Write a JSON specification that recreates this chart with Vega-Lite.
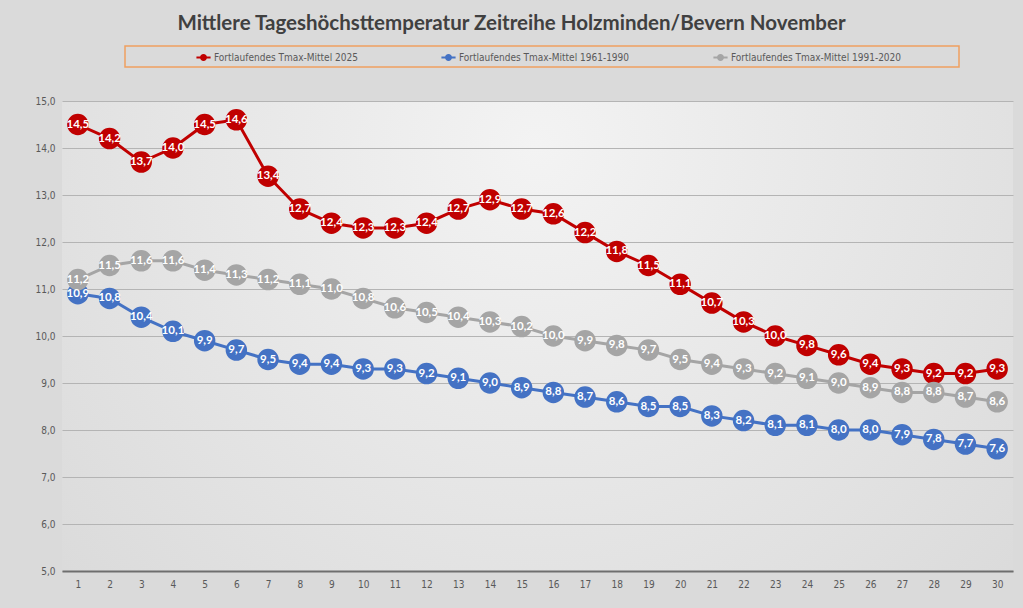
{
  "$schema": "https://vega.github.io/schema/vega-lite/v6.json",
  "autosize": "none",
  "width": 951,
  "height": 470,
  "padding": {"left": 62, "top": 101, "right": 10, "bottom": 37},
  "background": "#dadada",
  "title": {
    "text": "Mittlere Tageshöchsttemperatur Zeitreihe Holzminden/Bevern November",
    "font": "Lato, sans-serif",
    "fontSize": 20.5,
    "fontWeight": "bold",
    "color": "#404040",
    "anchor": "middle",
    "dx": -26,
    "offset": 11
  },
  "data": {
    "values": [
      {"day": 1, "series": "Fortlaufendes Tmax-Mittel 2025", "value": 14.5},
      {"day": 2, "series": "Fortlaufendes Tmax-Mittel 2025", "value": 14.2},
      {"day": 3, "series": "Fortlaufendes Tmax-Mittel 2025", "value": 13.7},
      {"day": 4, "series": "Fortlaufendes Tmax-Mittel 2025", "value": 14.0},
      {"day": 5, "series": "Fortlaufendes Tmax-Mittel 2025", "value": 14.5},
      {"day": 6, "series": "Fortlaufendes Tmax-Mittel 2025", "value": 14.6},
      {"day": 7, "series": "Fortlaufendes Tmax-Mittel 2025", "value": 13.4},
      {"day": 8, "series": "Fortlaufendes Tmax-Mittel 2025", "value": 12.7},
      {"day": 9, "series": "Fortlaufendes Tmax-Mittel 2025", "value": 12.4},
      {"day": 10, "series": "Fortlaufendes Tmax-Mittel 2025", "value": 12.3},
      {"day": 11, "series": "Fortlaufendes Tmax-Mittel 2025", "value": 12.3},
      {"day": 12, "series": "Fortlaufendes Tmax-Mittel 2025", "value": 12.4},
      {"day": 13, "series": "Fortlaufendes Tmax-Mittel 2025", "value": 12.7},
      {"day": 14, "series": "Fortlaufendes Tmax-Mittel 2025", "value": 12.9},
      {"day": 15, "series": "Fortlaufendes Tmax-Mittel 2025", "value": 12.7},
      {"day": 16, "series": "Fortlaufendes Tmax-Mittel 2025", "value": 12.6},
      {"day": 17, "series": "Fortlaufendes Tmax-Mittel 2025", "value": 12.2},
      {"day": 18, "series": "Fortlaufendes Tmax-Mittel 2025", "value": 11.8},
      {"day": 19, "series": "Fortlaufendes Tmax-Mittel 2025", "value": 11.5},
      {"day": 20, "series": "Fortlaufendes Tmax-Mittel 2025", "value": 11.1},
      {"day": 21, "series": "Fortlaufendes Tmax-Mittel 2025", "value": 10.7},
      {"day": 22, "series": "Fortlaufendes Tmax-Mittel 2025", "value": 10.3},
      {"day": 23, "series": "Fortlaufendes Tmax-Mittel 2025", "value": 10.0},
      {"day": 24, "series": "Fortlaufendes Tmax-Mittel 2025", "value": 9.8},
      {"day": 25, "series": "Fortlaufendes Tmax-Mittel 2025", "value": 9.6},
      {"day": 26, "series": "Fortlaufendes Tmax-Mittel 2025", "value": 9.4},
      {"day": 27, "series": "Fortlaufendes Tmax-Mittel 2025", "value": 9.3},
      {"day": 28, "series": "Fortlaufendes Tmax-Mittel 2025", "value": 9.2},
      {"day": 29, "series": "Fortlaufendes Tmax-Mittel 2025", "value": 9.2},
      {"day": 30, "series": "Fortlaufendes Tmax-Mittel 2025", "value": 9.3},
      {"day": 1, "series": "Fortlaufendes Tmax-Mittel 1961-1990", "value": 10.9},
      {"day": 2, "series": "Fortlaufendes Tmax-Mittel 1961-1990", "value": 10.8},
      {"day": 3, "series": "Fortlaufendes Tmax-Mittel 1961-1990", "value": 10.4},
      {"day": 4, "series": "Fortlaufendes Tmax-Mittel 1961-1990", "value": 10.1},
      {"day": 5, "series": "Fortlaufendes Tmax-Mittel 1961-1990", "value": 9.9},
      {"day": 6, "series": "Fortlaufendes Tmax-Mittel 1961-1990", "value": 9.7},
      {"day": 7, "series": "Fortlaufendes Tmax-Mittel 1961-1990", "value": 9.5},
      {"day": 8, "series": "Fortlaufendes Tmax-Mittel 1961-1990", "value": 9.4},
      {"day": 9, "series": "Fortlaufendes Tmax-Mittel 1961-1990", "value": 9.4},
      {"day": 10, "series": "Fortlaufendes Tmax-Mittel 1961-1990", "value": 9.3},
      {"day": 11, "series": "Fortlaufendes Tmax-Mittel 1961-1990", "value": 9.3},
      {"day": 12, "series": "Fortlaufendes Tmax-Mittel 1961-1990", "value": 9.2},
      {"day": 13, "series": "Fortlaufendes Tmax-Mittel 1961-1990", "value": 9.1},
      {"day": 14, "series": "Fortlaufendes Tmax-Mittel 1961-1990", "value": 9.0},
      {"day": 15, "series": "Fortlaufendes Tmax-Mittel 1961-1990", "value": 8.9},
      {"day": 16, "series": "Fortlaufendes Tmax-Mittel 1961-1990", "value": 8.8},
      {"day": 17, "series": "Fortlaufendes Tmax-Mittel 1961-1990", "value": 8.7},
      {"day": 18, "series": "Fortlaufendes Tmax-Mittel 1961-1990", "value": 8.6},
      {"day": 19, "series": "Fortlaufendes Tmax-Mittel 1961-1990", "value": 8.5},
      {"day": 20, "series": "Fortlaufendes Tmax-Mittel 1961-1990", "value": 8.5},
      {"day": 21, "series": "Fortlaufendes Tmax-Mittel 1961-1990", "value": 8.3},
      {"day": 22, "series": "Fortlaufendes Tmax-Mittel 1961-1990", "value": 8.2},
      {"day": 23, "series": "Fortlaufendes Tmax-Mittel 1961-1990", "value": 8.1},
      {"day": 24, "series": "Fortlaufendes Tmax-Mittel 1961-1990", "value": 8.1},
      {"day": 25, "series": "Fortlaufendes Tmax-Mittel 1961-1990", "value": 8.0},
      {"day": 26, "series": "Fortlaufendes Tmax-Mittel 1961-1990", "value": 8.0},
      {"day": 27, "series": "Fortlaufendes Tmax-Mittel 1961-1990", "value": 7.9},
      {"day": 28, "series": "Fortlaufendes Tmax-Mittel 1961-1990", "value": 7.8},
      {"day": 29, "series": "Fortlaufendes Tmax-Mittel 1961-1990", "value": 7.7},
      {"day": 30, "series": "Fortlaufendes Tmax-Mittel 1961-1990", "value": 7.6},
      {"day": 1, "series": "Fortlaufendes Tmax-Mittel 1991-2020", "value": 11.2},
      {"day": 2, "series": "Fortlaufendes Tmax-Mittel 1991-2020", "value": 11.5},
      {"day": 3, "series": "Fortlaufendes Tmax-Mittel 1991-2020", "value": 11.6},
      {"day": 4, "series": "Fortlaufendes Tmax-Mittel 1991-2020", "value": 11.6},
      {"day": 5, "series": "Fortlaufendes Tmax-Mittel 1991-2020", "value": 11.4},
      {"day": 6, "series": "Fortlaufendes Tmax-Mittel 1991-2020", "value": 11.3},
      {"day": 7, "series": "Fortlaufendes Tmax-Mittel 1991-2020", "value": 11.2},
      {"day": 8, "series": "Fortlaufendes Tmax-Mittel 1991-2020", "value": 11.1},
      {"day": 9, "series": "Fortlaufendes Tmax-Mittel 1991-2020", "value": 11.0},
      {"day": 10, "series": "Fortlaufendes Tmax-Mittel 1991-2020", "value": 10.8},
      {"day": 11, "series": "Fortlaufendes Tmax-Mittel 1991-2020", "value": 10.6},
      {"day": 12, "series": "Fortlaufendes Tmax-Mittel 1991-2020", "value": 10.5},
      {"day": 13, "series": "Fortlaufendes Tmax-Mittel 1991-2020", "value": 10.4},
      {"day": 14, "series": "Fortlaufendes Tmax-Mittel 1991-2020", "value": 10.3},
      {"day": 15, "series": "Fortlaufendes Tmax-Mittel 1991-2020", "value": 10.2},
      {"day": 16, "series": "Fortlaufendes Tmax-Mittel 1991-2020", "value": 10.0},
      {"day": 17, "series": "Fortlaufendes Tmax-Mittel 1991-2020", "value": 9.9},
      {"day": 18, "series": "Fortlaufendes Tmax-Mittel 1991-2020", "value": 9.8},
      {"day": 19, "series": "Fortlaufendes Tmax-Mittel 1991-2020", "value": 9.7},
      {"day": 20, "series": "Fortlaufendes Tmax-Mittel 1991-2020", "value": 9.5},
      {"day": 21, "series": "Fortlaufendes Tmax-Mittel 1991-2020", "value": 9.4},
      {"day": 22, "series": "Fortlaufendes Tmax-Mittel 1991-2020", "value": 9.3},
      {"day": 23, "series": "Fortlaufendes Tmax-Mittel 1991-2020", "value": 9.2},
      {"day": 24, "series": "Fortlaufendes Tmax-Mittel 1991-2020", "value": 9.1},
      {"day": 25, "series": "Fortlaufendes Tmax-Mittel 1991-2020", "value": 9.0},
      {"day": 26, "series": "Fortlaufendes Tmax-Mittel 1991-2020", "value": 8.9},
      {"day": 27, "series": "Fortlaufendes Tmax-Mittel 1991-2020", "value": 8.8},
      {"day": 28, "series": "Fortlaufendes Tmax-Mittel 1991-2020", "value": 8.8},
      {"day": 29, "series": "Fortlaufendes Tmax-Mittel 1991-2020", "value": 8.7},
      {"day": 30, "series": "Fortlaufendes Tmax-Mittel 1991-2020", "value": 8.6}
    ]
  },
  "encoding": {
    "x": {
      "field": "day",
      "type": "ordinal",
      "title": null,
      "scale": {"type": "point", "padding": 0.5},
      "axis": {
        "labelAngle": 0,
        "ticks": false,
        "domainColor": "#6e6e6e",
        "domainWidth": 2,
        "labelPadding": 8,
        "grid": false
      }
    },
    "y": {
      "field": "value",
      "type": "quantitative",
      "title": null,
      "scale": {"domain": [5, 15], "nice": false, "zero": false},
      "axis": {
        "values": [5, 6, 7, 8, 9, 10, 11, 12, 13, 14, 15],
        "format": ".1f",
        "ticks": false,
        "domain": false,
        "labelPadding": 7,
        "gridColor": "#b4b4b4",
        "gridWidth": 1.2
      }
    },
    "color": {
      "field": "series",
      "type": "nominal",
      "scale": {
        "domain": [
          "Fortlaufendes Tmax-Mittel 2025",
          "Fortlaufendes Tmax-Mittel 1961-1990",
          "Fortlaufendes Tmax-Mittel 1991-2020"
        ],
        "range": ["#c00000", "#4472c4", "#a5a5a5"]
      },
      "legend": {
        "title": null,
        "orient": "none",
        "legendX": 63,
        "legendY": -55,
        "direction": "horizontal",
        "columns": 3,
        "columnPadding": 15,
        "padding": 3,
        "symbolOffset": 67,
        "strokeColor": "#f0a060",
        "symbolType": "M-1,0H1M0.35,0A0.35,0.35 0 1,1 -0.35,0A0.35,0.35 0 1,1 0.35,0",
        "symbolSize": 200,
        "symbolStrokeWidth": 2,
        "labelOffset": 2,
        "labelFontSize": 10,
        "labelColor": "#595959",
        "labelLimit": 0,
        "labelExpr": "datum.label == 'Fortlaufendes Tmax-Mittel 1991-2020' ? datum.label + '\u00a0\u00a0\u00a0\u00a0\u00a0\u00a0\u00a0\u00a0\u00a0\u00a0\u00a0\u00a0\u00a0\u00a0\u00a0\u00a0\u00a0\u00a0\u00a0\u200b' : datum.label"
      }
    }
  },
  "layer": [
    {
      "mark": {"type": "line", "strokeWidth": 3},
      "encoding": {"detail": {"field": "series"}}
    },
    {
      "mark": {"type": "circle", "size": 460, "opacity": 1}
    },
    {
      "mark": {
        "type": "text",
        "color": "white",
        "font": "Lato, sans-serif",
        "fontWeight": "bold",
        "fontSize": 11.5,
        "baseline": "middle",
        "align": "center"
      },
      "encoding": {
        "text": {"field": "value", "type": "quantitative", "format": ".1f"},
        "color": {"value": "white"}
      }
    }
  ],
  "config": {
    "locale": {
      "number": {
        "decimal": ",",
        "thousands": ".",
        "grouping": [3],
        "currency": ["", " €"]
      }
    },
    "font": "DejaVu Sans Condensed, sans-serif",
    "legend": {"strokeWidth": 1.5},
    "view": {
      "stroke": null,
      "fill": {
        "gradient": "radial",
        "x1": 0.5, "y1": 0.3, "r1": 0,
        "x2": 0.5, "y2": 0.3, "r2": 0.75,
        "stops": [
          {"offset": 0, "color": "#f3f3f3"},
          {"offset": 1, "color": "#d8d8d8"}
        ]
      }
    },
    "axis": {
      "labelFontSize": 10,
      "labelColor": "#595959",
      "labelFont": "DejaVu Sans Condensed, sans-serif"
    }
  }
}
